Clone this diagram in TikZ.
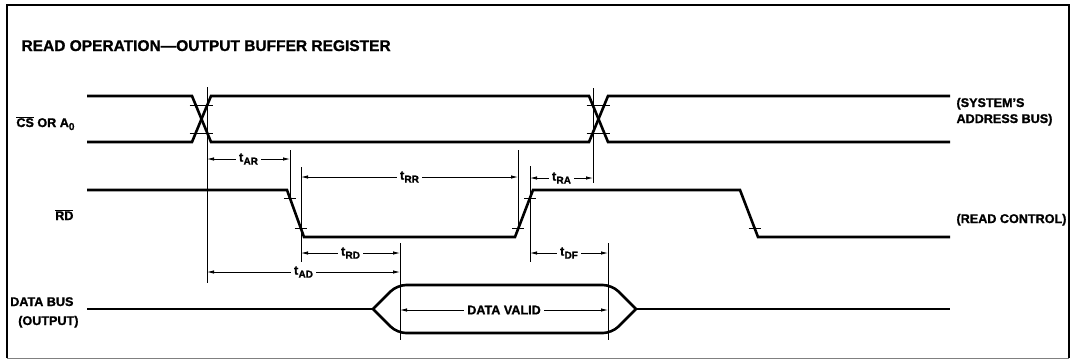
\documentclass[tikz,border=0pt]{standalone}
\usepackage{fontspec}
\setmainfont[BoldFeatures={FakeBold=1.2}]{Liberation Sans}
\usetikzlibrary{arrows.meta}
\newcommand{\tsub}[1]{t\kern0.3pt\raisebox{-3pt}{\fontsize{10}{10}\selectfont #1}}

\begin{document}
\begin{tikzpicture}[x=1pt, y=-1pt, font=\bfseries\fontsize{12.6}{15}\selectfont,
    sig/.style={line width=2.6pt},
    guide/.style={line width=0.8pt},
    tickmark/.style={line width=0.8pt},
    dim/.style={line width=0.8pt, {Latex[length=7pt,width=3.5pt]}-{Latex[length=7pt,width=3.5pt]}},
    dimlabel/.style={fill=white, inner sep=3pt}]
  \useasboundingbox (0,0) rectangle (1074,360);
  % frame
  \draw[line width=1.2pt] (7,358) -- (7,5) -- (1069,5) -- (1069,358);
  \draw[line width=0.4pt, gray] (7,358) -- (1069,358);
  \node[anchor=base west, font=\bfseries\fontsize{15.5}{18}\selectfont] (title) at (18,51)
    {READ OPERATION---OUTPUT BUFFER REGISTER};

  % signal names
  \node[anchor=base east] (csname) at (78,127) {$\overline{\mbox{CS}}$ OR A\raisebox{-3pt}{\fontsize{10}{10}\selectfont 0}};
  \node[anchor=base east] (rdname) at (77,220) {$\overline{\mbox{RD}}$};
  \node[anchor=base east] (busname) at (77,306) {DATA BUS};
  \node[anchor=base east] (outname) at (82,325) {(OUTPUT)};
  \node[anchor=base west, align=left, font=\bfseries\fontsize{12.6}{16}\selectfont] (sysname) at (953,123)
    {(SYSTEM'S\\ADDRESS BUS)};
  \node[anchor=base west] (ctlname) at (953,223) {(READ CONTROL)};

  % address bus
  \draw[sig] (87,96) -- (192,96) -- (211,142) -- (589,142) -- (608,96) -- (950,96);
  \draw[sig] (87,142) -- (192,142) -- (211,96) -- (589,96) -- (608,142) -- (950,142);
  % read control
  \draw[sig] (87,190) -- (287,190) -- (304,237) -- (515,237) -- (533,190)
    -- (740,190) -- (758,237) -- (950,237);
  % data bus
  \draw[sig] (87,309) -- (373,309);
  \draw[sig, rounded corners=9pt] (373,309) -- (397,285) -- (612,285) -- (636,309);
  \draw[sig, rounded corners=9pt] (373,309) -- (397,333) -- (612,333) -- (636,309);
  \draw[sig] (636,309) -- (950,309);

  % switching points
  \foreach \x/\y in {195.7/105, 207.3/105, 195.7/133, 207.3/133,
                     592.7/105, 604.3/105, 592.7/133, 604.3/133,
                     289.9/198, 300.7/228, 518.4/228, 530.1/198, 754.6/228}
    \draw[tickmark] (\x-6,\y) -- (\x+6,\y);

  % reference lines
  \foreach \n/\x/\ya/\yb in {ga/207/87/283, gb/290/150/198, gc/301/167/262,
                             gd/518/150/228, ge/530/166/262, gf/593/88/183,
                             gg/400/243/340, gh/608/243/340} {
    \coordinate (\n t) at (\x,\ya);
    \coordinate (\n b) at (\x,\yb);
    \draw[guide] (\n t) -- (\n b);
  }

  % timing parameters
  \draw[dim] (gat |- 0,159) -- node[dimlabel] (tar) {\tsub{AR}} (gbt |- 0,159);
  \draw[dim] (gct |- 0,177) -- node[dimlabel] (trr) {\tsub{RR}} (gdt |- 0,177);
  \draw[dim] (get |- 0,178) -- node[dimlabel] (tra) {\tsub{RA}} (gft |- 0,178);
  \draw[dim] (gct |- 0,253) -- node[dimlabel] (trd) {\tsub{RD}} (ggt |- 0,253);
  \draw[dim] (get |- 0,253) -- node[dimlabel] (tdf) {\tsub{DF}} (ght |- 0,253);
  \draw[dim] (gat |- 0,272) -- node[dimlabel] (tad) {\tsub{AD}} (ggt |- 0,272);
  \draw[dim] (ggt |- 0,310) -- node[dimlabel] (valid) {DATA VALID} (ght |- 0,310);
\end{tikzpicture}
\end{document}
